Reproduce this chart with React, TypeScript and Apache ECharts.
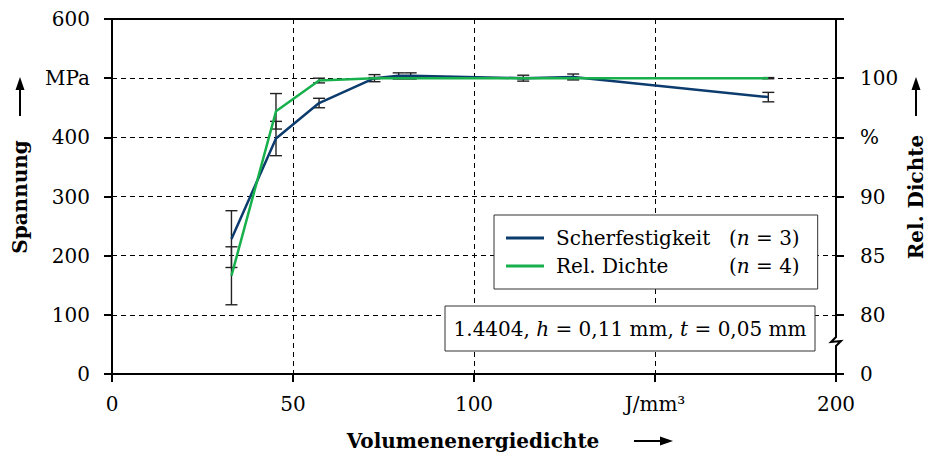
import React, { useEffect, useRef } from "react";
import * as echarts from "echarts";

const energy = [33, 45.3, 57.2, 72.5, 79.2, 82.5, 113.6, 127.4, 181.3];
const shear = [228, 398, 458, 500, 504, 504, 500, 502, 468];
const shearErr = [48, 29, 8, 6, 5, 5, 5, 5, 8];
const density = [83.3, 97.2, 99.8, 100, 100, 100, 100, 100, 100];
const densityErr = [2.45, 1.5, 0.2, 0.05, 0.05, 0.05, 0.05, 0.05, 0.05];

const seriesNames = ["Scherfestigkeit", "Rel. Dichte"];
const seriesN = ["3", "4"];
const xTickLabels: Record<number, string> = { 150: "J/mm³" };
const yLeftTickLabels: Record<number, string> = { 500: "MPa" };
const yRightTickLabels: Record<number, string> = { 75: "0", 95: "%", 105: "" };

const FONT = "'DejaVu Serif', 'Liberation Serif', serif";
const BLUE = "#0c3b6d";
const GREEN = "#17b04c";

function errorBarRender(params: any, api: any) {
  const x = api.value(0);
  const y = api.value(1);
  const e = api.value(2);
  const top = api.coord([x, y + e]);
  const bot = api.coord([x, y - e]);
  const hw = 6;
  const style = { stroke: "#222", lineWidth: 1.4 };
  return {
    type: "group",
    children: [
      { type: "line", shape: { x1: top[0], y1: top[1], x2: bot[0], y2: bot[1] }, style },
      { type: "line", shape: { x1: top[0] - hw, y1: top[1], x2: top[0] + hw, y2: top[1] }, style },
      { type: "line", shape: { x1: bot[0] - hw, y1: bot[1], x2: bot[0] + hw, y2: bot[1] }, style },
    ],
  };
}

export default function App() {
  const ref = useRef<HTMLDivElement>(null);
  useEffect(() => {
    if (!ref.current) return;
    const chart = echarts.init(ref.current, null, { renderer: "svg" });
    const dash = { type: [5, 4] as any, color: "#000", width: 1 };
    const labelStyle = { fontFamily: FONT, fontSize: 20, color: "#000" };
    const richBase = { fontFamily: FONT, fontSize: 20, lineHeight: 26, color: "#000" };
    const option: any = {
      animation: false,
      backgroundColor: "#fff",
      textStyle: { fontFamily: FONT },
      grid: {
        left: 112,
        right: 91,
        top: 19,
        bottom: 81,
        show: true,
        borderColor: "#000",
        borderWidth: 2,
        backgroundColor: "transparent",
      },
      xAxis: {
        type: "value",
        min: 0,
        max: 200,
        interval: 50,
        axisLine: { show: true, lineStyle: { color: "#000", width: 2 } },
        axisTick: { show: true, length: 8, lineStyle: { color: "#000", width: 2 } },
        axisLabel: {
          ...labelStyle,
          margin: 20,
          formatter: (v: number) => (xTickLabels[v] !== undefined ? xTickLabels[v] : String(v)),
        },
        splitLine: { show: true, lineStyle: dash },
      },
      yAxis: [
        {
          type: "value",
          min: 0,
          max: 600,
          interval: 100,
          position: "left",
          axisLine: { show: true, lineStyle: { color: "#000", width: 2 } },
          axisTick: { show: true, length: 8, lineStyle: { color: "#000", width: 2 } },
          axisLabel: {
            ...labelStyle,
            margin: 22,
            formatter: (v: number) =>
              yLeftTickLabels[v] !== undefined ? yLeftTickLabels[v] : String(v),
          },
          splitLine: { show: true, lineStyle: dash },
        },
        {
          type: "value",
          min: 75,
          max: 105,
          interval: 5,
          position: "right",
          axisLine: { show: true, lineStyle: { color: "#000", width: 2 } },
          axisTick: { show: true, length: 8, lineStyle: { color: "#000", width: 2 } },
          axisLabel: {
            ...labelStyle,
            margin: 24,
            formatter: (v: number) =>
              yRightTickLabels[v] !== undefined ? yRightTickLabels[v] : String(v),
          },
          splitLine: { show: false },
        },
      ],
      legend: {
        left: 494,
        top: 215,
        orient: "vertical",
        data: seriesNames,
        selectedMode: false,
        icon: "rect",
        itemWidth: 38,
        itemHeight: 3,
        itemGap: 2,
        padding: [10, 18, 10, 12],
        backgroundColor: "#fff",
        borderColor: "#333",
        borderWidth: 1,
        borderRadius: 0,
        formatter: (name: string) => {
          const i = seriesNames.indexOf(name);
          return `{a|${name}}{b|(}{i|n}{b| = ${seriesN[i]})}`;
        },
        textStyle: {
          ...richBase,
          rich: {
            a: { ...richBase, width: 173, padding: [0, 0, 0, 7] },
            b: { ...richBase },
            i: { ...richBase, fontStyle: "italic" },
          },
        },
        z: 10,
      },
      series: [
        {
          name: seriesNames[0],
          type: "line",
          yAxisIndex: 0,
          data: energy.map((x, i) => [x, shear[i]]),
          symbol: "none",
          lineStyle: { color: BLUE, width: 2.5 },
          itemStyle: { color: BLUE },
          z: 3,
        },
        {
          name: seriesNames[1],
          type: "line",
          yAxisIndex: 1,
          data: energy.map((x, i) => [x, density[i]]),
          symbol: "none",
          lineStyle: { color: GREEN, width: 2.5 },
          itemStyle: { color: GREEN },
          z: 3,
        },
        {
          name: "errShear",
          type: "custom",
          yAxisIndex: 0,
          renderItem: errorBarRender,
          data: energy.map((x, i) => [x, shear[i], shearErr[i]]),
          encode: { x: 0, y: 1 },
          z: 2,
          silent: true,
        },
        {
          name: "errDensity",
          type: "custom",
          yAxisIndex: 1,
          renderItem: errorBarRender,
          data: energy.map((x, i) => [x, density[i], densityErr[i]]),
          encode: { x: 0, y: 1 },
          z: 2,
          silent: true,
        },
      ],
      graphic: [
        // right axis break
        { type: "rect", shape: { x: 830, y: 335, width: 12, height: 15 }, style: { fill: "#fff" }, z: 20 },
        {
          type: "polyline",
          shape: { points: [[836, 333], [836, 337], [831, 342], [841, 341], [836, 346], [836, 352]] },
          style: { stroke: "#000", lineWidth: 2, fill: null },
          z: 21,
        },
        // annotation box
        {
          type: "rect",
          shape: { x: 445, y: 306, width: 370, height: 45 },
          style: { fill: "#fff", stroke: "#333", lineWidth: 1 },
          z: 20,
        },
        {
          type: "text",
          x: 630,
          y: 329,
          z: 21,
          style: {
            text: "{r|1.4404, }{i|h}{r| = 0,11 mm, }{i|t}{r| = 0,05 mm}",
            fontFamily: FONT,
            fontSize: 20,
            align: "center",
            verticalAlign: "middle",
            rich: {
              r: { fontFamily: FONT, fontSize: 20, fill: "#000" },
              i: { fontFamily: FONT, fontSize: 20, fontStyle: "italic", fill: "#000" },
            },
          },
        },
        // left axis title
        {
          type: "text",
          x: 20,
          y: 197,
          rotation: Math.PI / 2,
          style: {
            text: "Spannung",
            fontFamily: FONT,
            fontSize: 20,
            fontWeight: "bold",
            fill: "#000",
            align: "center",
            verticalAlign: "middle",
          },
        },
        { type: "line", shape: { x1: 20, y1: 116, x2: 20, y2: 88 }, style: { stroke: "#000", lineWidth: 2 } },
        { type: "polygon", shape: { points: [[20, 77], [15.5, 90], [24.5, 90]] }, style: { fill: "#000" } },
        // right axis title
        {
          type: "text",
          x: 916,
          y: 197,
          rotation: Math.PI / 2,
          style: {
            text: "Rel. Dichte",
            fontFamily: FONT,
            fontSize: 20,
            fontWeight: "bold",
            fill: "#000",
            align: "center",
            verticalAlign: "middle",
          },
        },
        { type: "line", shape: { x1: 916, y1: 116, x2: 916, y2: 88 }, style: { stroke: "#000", lineWidth: 2 } },
        { type: "polygon", shape: { points: [[916, 77], [911.5, 90], [920.5, 90]] }, style: { fill: "#000" } },
        // x axis title
        {
          type: "text",
          x: 473,
          y: 441,
          style: {
            text: "Volumenenergiedichte",
            fontFamily: FONT,
            fontSize: 20,
            fontWeight: "bold",
            fill: "#000",
            align: "center",
            verticalAlign: "middle",
          },
        },
        { type: "line", shape: { x1: 634, y1: 441, x2: 662, y2: 441 }, style: { stroke: "#000", lineWidth: 2 } },
        { type: "polygon", shape: { points: [[673, 441], [660, 436.5], [660, 445.5]] }, style: { fill: "#000" } },
      ],
    };
    chart.setOption(option);
    return () => chart.dispose();
  }, []);
  return (
    <div
      ref={ref}
      style={{ position: "fixed", left: 0, top: 0, width: 927, height: 455, background: "#fff" }}
    />
  );
}
